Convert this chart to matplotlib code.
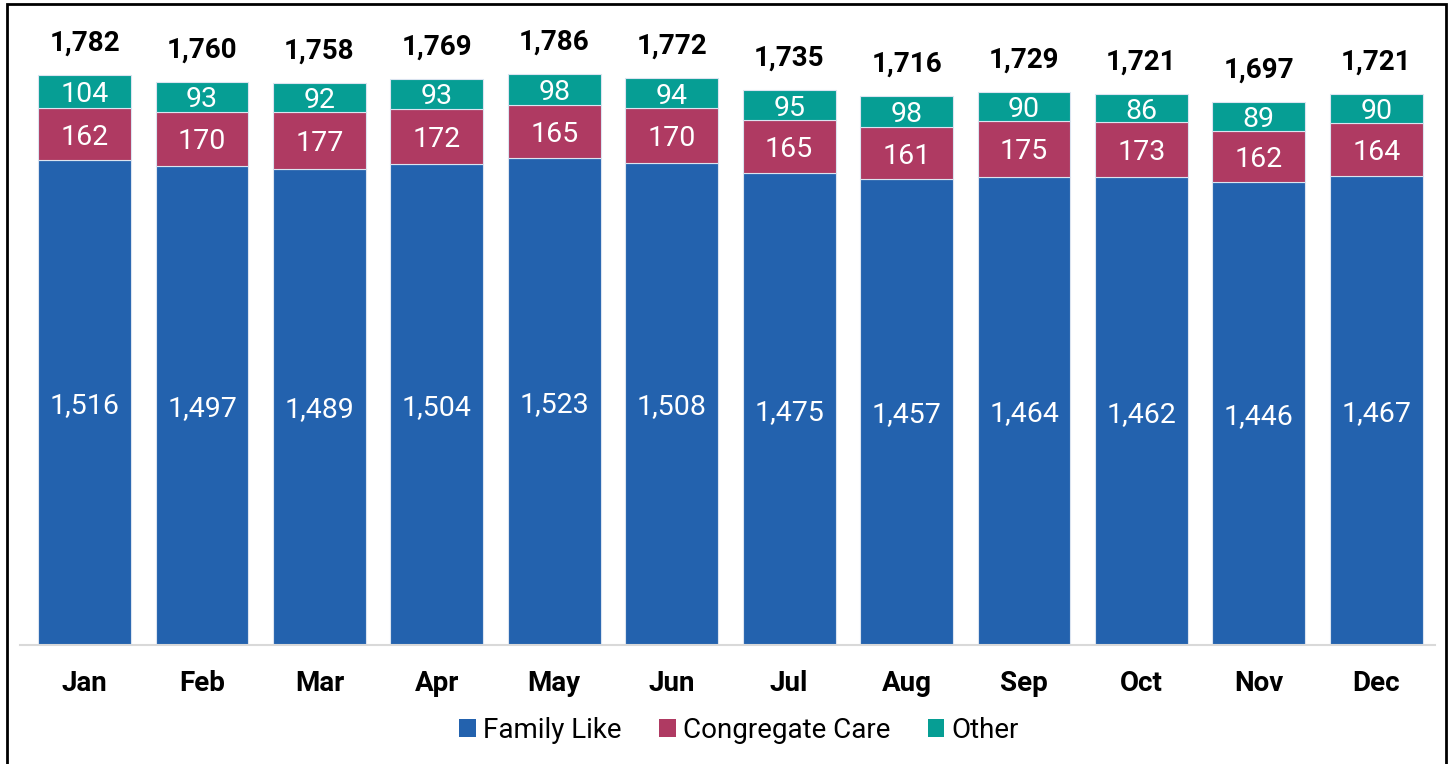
import matplotlib
matplotlib.use("Agg")
import matplotlib.pyplot as plt
from matplotlib.patches import Rectangle
import numpy as np

plt.rcParams['font.family'] = ['Roboto', 'DejaVu Sans']

months = ["Jan", "Feb", "Mar", "Apr", "May", "Jun", "Jul", "Aug", "Sep", "Oct", "Nov", "Dec"]
family_like = [1516, 1497, 1489, 1504, 1523, 1508, 1475, 1457, 1464, 1462, 1446, 1467]
congregate = [162, 170, 177, 172, 165, 170, 165, 161, 175, 173, 162, 164]
other = [104, 93, 92, 93, 98, 94, 95, 98, 90, 86, 89, 90]
totals = [1782, 1760, 1758, 1769, 1786, 1772, 1735, 1716, 1729, 1721, 1697, 1721]

c_blue = "#2362AE"
c_red = "#AF3A62"
c_teal = "#069E94"

W, H = 1450, 764
fig = plt.figure(figsize=(W / 100, H / 100), dpi=100)
ax = fig.add_axes([20 / W, 119 / H, (1435 - 20) / W, (645 - 10) / H])

x = np.arange(len(months))
fam = np.array(family_like)
con = np.array(congregate)
oth = np.array(other)
bw = 0.79
ec = "#dbe4f0"
b1 = ax.bar(x, fam, bw, color=c_blue, edgecolor=ec, linewidth=0.8, label="Family Like")
b2 = ax.bar(x, con, bw, bottom=fam, color=c_red, edgecolor=ec, linewidth=0.8, label="Congregate Care")
b3 = ax.bar(x, oth, bw, bottom=fam + con, color=c_teal, edgecolor=ec, linewidth=0.8, label="Other")

fs_in = 20.5
for i in range(len(months)):
    ax.text(x[i], fam[i] / 2, f"{fam[i]:,}", ha="center", va="center_baseline", color="white", fontsize=fs_in)
    ax.text(x[i], fam[i] + con[i] / 2, f"{con[i]:,}", ha="center", va="center_baseline", color="white", fontsize=fs_in)
    ax.text(x[i], fam[i] + con[i] + oth[i] / 2, f"{oth[i]:,}", ha="center", va="center_baseline", color="white", fontsize=fs_in)
    ax.annotate(f"{totals[i]:,}", (x[i], fam[i] + con[i] + oth[i]), xytext=(0, 23),
                textcoords="offset points", ha="center", va="center",
                fontsize=20, fontweight="bold", color="black")

ax.set_xlim(-0.55, 11.5)
ax.set_ylim(0, 1985)
ax.set_yticks([])
ax.set_xticks(x)
ax.set_xticklabels(months, fontsize=20, fontweight="bold")
ax.tick_params(axis="x", length=0, pad=18)
for s in ["top", "right", "left"]:
    ax.spines[s].set_visible(False)
ax.spines["bottom"].set_color("#D9D9D9")
ax.spines["bottom"].set_linewidth(1.5)

leg = fig.legend(handles=[b1, b2, b3], loc="center", bbox_to_anchor=(739 / W, 1 - 730 / H),
                 ncol=3, frameon=False, fontsize=20, handlelength=0.6, handleheight=0.6,
                 handletextpad=0.25, columnspacing=1.35)
for h in leg.legend_handles:
    h.set_edgecolor("none")

fig.patches.append(Rectangle((7 / W, -0.02), (1446 - 7) / W, 1.02 - 4 / H, transform=fig.transFigure,
                             fill=False, edgecolor="black", linewidth=2))

fig.savefig("out.png", dpi=100)
